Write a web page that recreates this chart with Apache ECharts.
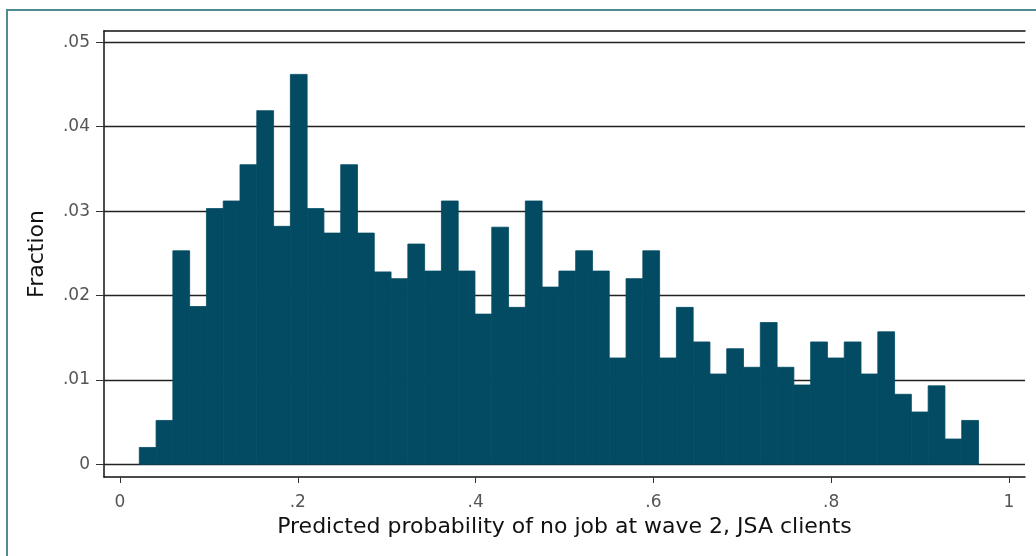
<!DOCTYPE html>
<html>
<head>
<meta charset="utf-8">
<script src="https://cdn.jsdelivr.net/npm/echarts@6/dist/echarts.min.js"></script>
<style>
  html, body { margin: 0; padding: 0; background: #fff; }
  #chart { width: 1036px; height: 556px; }
</style>
</head>
<body>
<div id="chart"></div>
<script>
// histogram bins: start of first bin and bin width (predicted probability)
const binStart = 0.0217;
const binWidth = 0.01888;

// fraction in each bin
const fractions = [
  0.0020, 0.0052, 0.0253, 0.0187, 0.0303, 0.0312, 0.0355, 0.0419, 0.0282, 0.0462,
  0.0303, 0.0274, 0.0355, 0.0274, 0.0228, 0.0220, 0.0261, 0.0229, 0.0312, 0.0229,
  0.0178, 0.0281, 0.0186, 0.0312, 0.0210, 0.0229, 0.0253, 0.0229, 0.0126, 0.0220,
  0.0253, 0.0126, 0.0186, 0.0145, 0.0107, 0.0137, 0.0115, 0.0168, 0.0115, 0.0094,
  0.0145, 0.0126, 0.0145, 0.0107, 0.0157, 0.0083, 0.0062, 0.0093, 0.0030, 0.0052
];

const xTicks = [0, 0.2, 0.4, 0.6, 0.8, 1];
const yTicks = [0, 0.01, 0.02, 0.03, 0.04, 0.05];

function fmt(v) {
  if (v === 0) return "0";
  if (v === 1) return "1";
  return String(v).replace(/^0/, "");
}

const bins = fractions.map((f, i) => [binStart + i * binWidth, binStart + (i + 1) * binWidth, f]);

const chart = echarts.init(document.getElementById("chart"));

const option = {
  backgroundColor: "#fff",
  animation: false,
  textStyle: { fontFamily: "DejaVu Sans" },
  graphic: [
    {
      type: "rect",
      shape: { x: 7, y: 10, width: 1060, height: 580 },
      style: { fill: "none", stroke: "#4f8b94", lineWidth: 2 },
      silent: true,
    },
  ],
  grid: {
    left: 104,
    right: 11,
    top: 31,
    bottom: 79,
  },
  xAxis: [
    {
      type: "value",
      min: -0.018,
      max: 1.018,
      name: "Predicted probability of no job at wave 2, JSA clients",
      nameLocation: "middle",
      nameGap: 38,
      nameTextStyle: { fontSize: 22, color: "#111", fontFamily: "DejaVu Sans" },
      axisLine: { show: true, onZero: false, lineStyle: { color: "#111", width: 1.5 } },
      axisTick: { show: true, length: 6, customValues: xTicks, lineStyle: { color: "#333" } },
      axisLabel: { customValues: xTicks, formatter: fmt, margin: 17, fontSize: 17, color: "#555" },
      splitLine: { show: false },
    },
    {
      type: "value",
      position: "top",
      min: -0.018,
      max: 1.018,
      axisLine: { show: true, onZero: false, lineStyle: { color: "#111", width: 1.5 } },
      axisTick: { show: false },
      axisLabel: { show: false },
      splitLine: { show: false },
    },
  ],
  yAxis: {
    type: "value",
    min: -0.0015,
    max: 0.05134,
    name: "Fraction",
    nameLocation: "middle",
    nameGap: 56,
    nameTextStyle: { fontSize: 22, color: "#111", fontFamily: "DejaVu Sans" },
    axisLine: { show: true, onZero: false, lineStyle: { color: "#111", width: 1.5 } },
    axisTick: { show: true, length: 8, customValues: yTicks, lineStyle: { color: "#333" } },
    axisLabel: { customValues: yTicks, formatter: fmt, margin: 14, fontSize: 17, color: "#555" },
    splitLine: { show: false },
  },
  series: [
    {
      // horizontal rules at each y tick, under the bars
      type: "line",
      data: [],
      markLine: {
        silent: true,
        symbol: "none",
        label: { show: false },
        lineStyle: { color: "#222", type: "solid", width: 1.3 },
        data: yTicks.map((v) => ({ yAxis: v })),
      },
    },
    {
      type: "custom",
      z: 10,
      data: bins,
      encode: { x: [0, 1], y: 2 },
      renderItem: (params, api) => {
        const p0 = api.coord([api.value(0), api.value(2)]);
        const p1 = api.coord([api.value(1), 0]);
        return {
          type: "rect",
          shape: { x: p0[0], y: p0[1], width: p1[0] - p0[0], height: p1[1] - p0[1] },
          style: { fill: "#024b63", stroke: "#024b63", lineWidth: 0.8 },
        };
      },
    },
  ],
};

chart.setOption(option);
</script>
</body>
</html>
